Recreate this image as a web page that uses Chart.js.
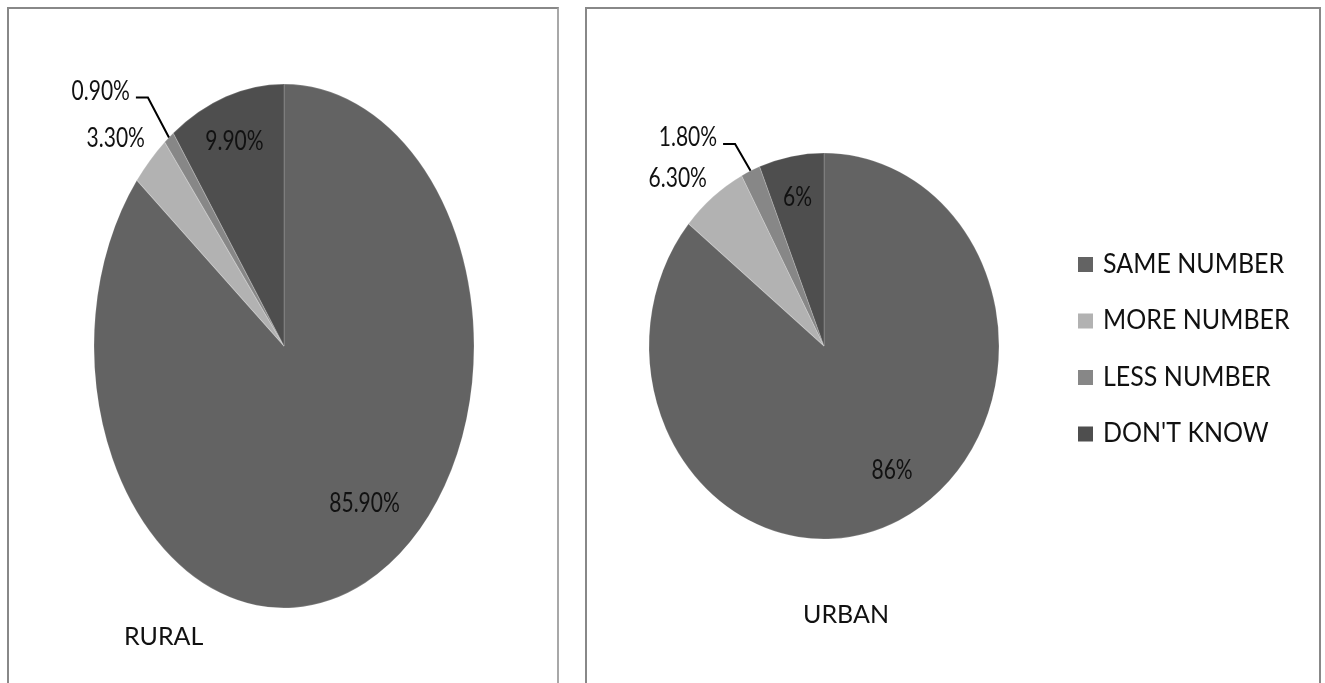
<!DOCTYPE html>
<html lang="en">
<head>
    <meta charset="UTF-8">
    <title>Rural / Urban</title>
    <script src="https://cdn.jsdelivr.net/npm/chart.js"></script>
    <style>
        body { margin: 0; background: #fff; font-family: Lato, sans-serif; }
        .panel {
            position: absolute;
            top: 7px;
            height: 720px;
            border: 2px solid #888;
            border-bottom: none;
        }
        #leftPanel { left: 7px; width: 548px; border-right-color: #a8a8a8; }
        #rightPanel { left: 585px; width: 732px; }
        canvas { position: absolute; top: 0; }
        .title { position: absolute; font-size: 25px; line-height: 25px; color: #111; }
    </style>
</head>
<body>
    <div class="panel" id="leftPanel"></div>
    <div class="panel" id="rightPanel"></div>
    <canvas id="ruralChart" width="570" height="683" style="left:0"></canvas>
    <canvas id="urbanChart" width="745" height="683" style="left:580px"></canvas>
    <div class="title" style="left:124px; top:623px">RURAL</div>
    <div class="title" style="left:803px; top:601px">URBAN</div>

    <script>
        const categories = ['SAME NUMBER', 'MORE NUMBER', 'LESS NUMBER', "DON'T KNOW"];
        const ruralValues = [85.9, 3.3, 0.9, 9.9];
        const urbanValues = [86, 6.3, 1.8, 6];
        const ruralLabels = ['85.90%', '3.30%', '0.90%', '9.90%'];
        const urbanLabels = ['86%', '6.30%', '1.80%', '6%'];
        const sliceColors = ['#636363', '#b2b2b2', '#878787', '#4e4e4e'];

        // text a bit taller than it is wide, like the original
        function tallText(ctx, txt, x, y, k) {
            ctx.save();
            ctx.translate(x, y);
            ctx.scale(1, k);
            ctx.fillText(txt, 0, 0);
            ctx.restore();
        }

        // squash the round pie into an ellipse, then write the labels
        const excelPie = {
            id: 'excelPie',
            beforeDatasetsDraw(chart, args, opts) {
                const a = chart.getDatasetMeta(0).data[0];
                const ctx = chart.ctx;
                ctx.save();
                ctx.translate(a.x, a.y);
                ctx.scale(1, opts.sy);
                ctx.translate(-a.x, -a.y);
            },
            afterDatasetsDraw(chart) {
                chart.ctx.restore();
            },
            afterDraw(chart, args, opts) {
                const ctx = chart.ctx;
                const arcs = chart.getDatasetMeta(0).data;
                const cx = arcs[0].x, cy = arcs[0].y, r = arcs[0].outerRadius;
                ctx.save();
                ctx.font = '21px Lato';
                ctx.fillStyle = '#111';
                ctx.textBaseline = 'middle';
                opts.labels.forEach((txt, i) => {
                    const o = opts.pos[i];
                    const x = cx + o[0] * r, y = cy + o[1] * r * opts.sy;
                    ctx.textAlign = o[2];
                    tallText(ctx, txt, x, y, 1.25);
                    if (i === opts.leader) {
                        const a = arcs[i];
                        const mid = (a.startAngle + a.endAngle) / 2;
                        const ex = cx + r * Math.cos(mid), ey = cy + r * Math.sin(mid) * opts.sy;
                        ctx.strokeStyle = '#000';
                        ctx.lineWidth = 2;
                        ctx.beginPath();
                        ctx.moveTo(x + 6, y + 6);
                        ctx.lineTo(x + 18, y + 6);
                        ctx.lineTo(ex, ey);
                        ctx.stroke();
                    }
                });
                if (opts.legend) {
                    const lg = opts.legend;
                    ctx.font = '25px Lato';
                    ctx.textAlign = 'left';
                    chart.data.labels.forEach((lab, i) => {
                        const y = lg.y + i * lg.gap;
                        ctx.fillStyle = chart.data.datasets[0].backgroundColor[i];
                        ctx.fillRect(lg.x, y - 7.5, 15, 15);
                        ctx.fillStyle = '#111';
                        tallText(ctx, lab, lg.x + 25, y, 1.05);
                    });
                }
                ctx.restore();
            }
        };

        function makePie(id, values, padding, radius, pieOpts) {
            return new Chart(document.getElementById(id), {
                type: 'pie',
                data: {
                    labels: categories,
                    datasets: [{
                        data: values,
                        backgroundColor: sliceColors,
                        borderColor: 'rgba(255,255,255,0.18)',
                        borderWidth: 1,
                        hoverOffset: 0
                    }]
                },
                options: {
                    responsive: false,
                    animation: false,
                    radius: radius,
                    layout: { padding: padding },
                    plugins: {
                        legend: { display: false },
                        tooltip: { enabled: false },
                        excelPie: pieOpts
                    }
                },
                plugins: [excelPie]
            });
        }

        makePie('ruralChart', ruralValues,
            { left: 94, right: 96, top: 156, bottom: 147 }, 190, {
                sy: 262 / 190,
                labels: ruralLabels,
                pos: [[0.424, 0.601, 'center'], [-0.732, -0.792, 'right'], [-0.811, -0.971, 'right'], [-0.261, -0.782, 'center']],
                leader: 2
            });

        makePie('urbanChart', urbanValues,
            { left: 69, right: 326, top: 171, bottom: 162 }, 175, {
                sy: 193 / 175,
                labels: urbanLabels,
                pos: [[0.389, 0.645, 'center'], [-0.669, -0.868, 'right'], [-0.611, -1.078, 'right'], [-0.151, -0.769, 'center']],
                leader: 2,
                legend: { x: 498, y: 264.5, gap: 56.5 }
            });
    </script>
</body>
</html>
